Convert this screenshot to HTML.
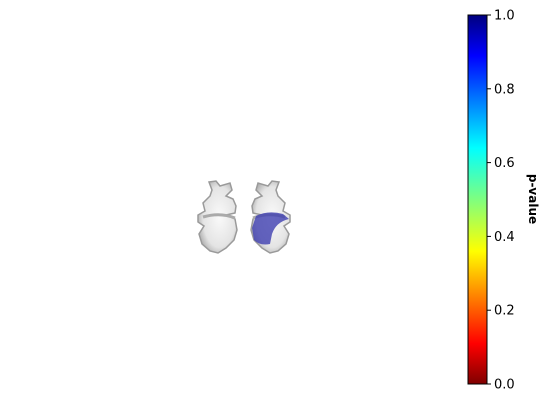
<!DOCTYPE html>
<html><head><meta charset="utf-8"><style>
html,body{margin:0;background:#fff;width:548px;height:418px;overflow:hidden;font-family:"DejaVu Sans",sans-serif}
svg{display:block}
</style></head><body>
<svg id="c" width="548" height="418">
<defs>
<linearGradient id="jet" x1="0" y1="1" x2="0" y2="0">
<stop offset="0" stop-color="#7f0000"/><stop offset="0.11" stop-color="#ff0000"/>
<stop offset="0.36" stop-color="#ffff00"/><stop offset="0.5" stop-color="#7fff7f"/>
<stop offset="0.64" stop-color="#00ffff"/><stop offset="0.89" stop-color="#0000ff"/>
<stop offset="1" stop-color="#00007f"/></linearGradient>
<radialGradient id="gr" cx="0.55" cy="0.5" r="0.6"><stop offset="0" stop-color="#fafafa"/><stop offset="0.7" stop-color="#e4e4e4"/><stop offset="1" stop-color="#a8a8a8"/></radialGradient>
</defs>
<g fill="url(#gr)" stroke="#9a9a9a" stroke-width="1.5">
<path d="M209,182 L216,181 L220,186 L230,183 L232,190 L226,196 L233,199 L236,206 L235,213 L226,215 L235,219 L237,230 L234,240 L226,248 L218,253 L210,251 L202,244 L199,234 L204,226 L198,222 L198,215 L205,211 L203,203 L210,196 L212,190 Z"/>
<path d="M203,217 Q220,212 235,218" fill="none" stroke="#aaa" stroke-width="3"/>
</g>
<g fill="url(#gr)" stroke="#9a9a9a" stroke-width="1.5">
<path d="M279,182 L272,181 L268,186 L258,183 L256,190 L262,196 L255,199 L252,206 L253,213 L262,215 L253,219 L251,230 L254,240 L262,248 L270,253 L278,251 L286,244 L289,234 L284,226 L290,222 L290,215 L283,211 L285,203 L278,196 L276,190 Z"/>
<path d="M285,217 Q268,212 253,218" fill="none" stroke="#aaa" stroke-width="3"/>
</g>
<path d="M256,216 Q268,210 283,214 L289,219 Q276,222 272,234 L270,244 Q260,246 254,240 L252,228 Z" fill="#3f3fb0" fill-opacity="0.8"/>
<rect x="468" y="15" width="19" height="369" fill="url(#jet)" stroke="#000" stroke-width="1"/>
<g id="ticks"></g>
<text transform="translate(529,199) rotate(90)" text-anchor="middle" font-size="12" font-weight="bold">p-value</text>
</svg>
<script>
const tickValues=[0,0.2,0.4,0.6,0.8,1.0];
const tickLabels=["0.0","0.2","0.4","0.6","0.8","1.0"];
const g=document.getElementById('ticks');
const y=v=>384-v*369;
tickValues.forEach((v,i)=>{
const l=document.createElementNS('http://www.w3.org/2000/svg','line');


l.setAttribute('x1',487);l.setAttribute('x2',491);l.setAttribute('y1',y(v));l.setAttribute('y2',y(v));l.setAttribute('stroke','#000');
g.appendChild(l);
const t=document.createElementNS('http://www.w3.org/2000/svg','text');


t.setAttribute('x',494);t.setAttribute('y',y(v)+4.5);t.setAttribute('font-size','13');
t.textContent=tickLabels[i];g.appendChild(t);
});
</script>
</body></html>
